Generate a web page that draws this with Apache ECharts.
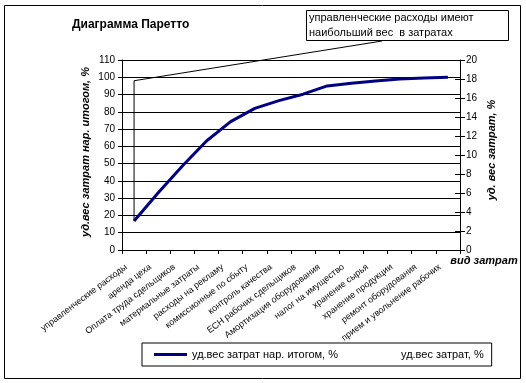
<!DOCTYPE html>
<html><head><meta charset="utf-8">
<script src="https://cdn.jsdelivr.net/npm/echarts@6/dist/echarts.min.js"></script>
<style>html,body{margin:0;padding:0;background:#fff}#c{width:526px;height:383px}</style>
</head><body><div id="c"></div>
<script>
var categories = ["управленческие расходы","аренда цеха","Оплата труда сдельщиков","материальные затраты","расходы на рекламу","комиссионные по сбыту","контроль качества","ЕСН рабочих сдельщиков","Амортизация оборудования","налог на имущество","хранение сырья","хранение продукции","ремонт оборудования","прием и увольнение рабочих"];
var cumulative = [16.8, 33.2, 48.6, 63.1, 74.3, 82.0, 86.5, 90.2, 95.0, 96.5, 97.9, 99.0, 99.6, 100];
var leftTicks = {min: 0, max: 110, step: 10};
var rightTicks = {min: 0, max: 20, step: 2};
var seriesNames = ["уд.вес затрат нар. итогом, %", "уд.вес затрат, %"];
var calloutValue = 98;

var F = 'Arial, "Liberation Sans", sans-serif';
var chart = echarts.init(document.getElementById('c'), null, {renderer: 'canvas'});
var option = {
  animation: false,
  textStyle: {fontFamily: F},
  grid: {left: 122, right: 66, top: 60, bottom: 133, containLabel: false},
  xAxis: {
    type: 'category', data: categories, boundaryGap: true,
    axisLine: {lineStyle: {color: '#000', width: 1}},
    axisTick: {show: true, interval: 0, length: 4, lineStyle: {color: '#000'}},
    axisLabel: {interval: 0, rotate: 37, fontSize: 9, color: '#000', fontFamily: F, margin: 10, padding: [0, 10, 0, 0]}
  },
  yAxis: [
    {type: 'value', min: leftTicks.min, max: leftTicks.max, interval: leftTicks.step, position: 'left',
     axisLine: {show: true, lineStyle: {color: '#000'}},
     axisTick: {show: true, length: 4, lineStyle: {color: '#000'}},
     axisLabel: {fontSize: 10, color: '#000', fontFamily: F, margin: 7},
     splitLine: {show: true, lineStyle: {color: '#000', width: 1}}},
    {type: 'value', min: rightTicks.min, max: rightTicks.max, interval: rightTicks.step, position: 'right',
     axisLine: {show: true, lineStyle: {color: '#000'}},
     axisTick: {show: true, length: 5, lineStyle: {color: '#000'}},
     axisLabel: {fontSize: 10, color: '#000', fontFamily: F, margin: 6},
     splitLine: {show: false}},
    {type: 'value', min: rightTicks.min, max: rightTicks.max, interval: rightTicks.step, position: 'right',
     axisLine: {show: false},
     axisTick: {show: true, inside: true, length: 5, lineStyle: {color: '#000'}},
     axisLabel: {show: false}, splitLine: {show: false}}
  ],
  legend: {
    left: 142, top: 343, width: 400,
    padding: [6, 8, 6, 12], itemGap: 25,
    borderColor: '#000', borderWidth: 1,
    itemWidth: 33, itemHeight: 3,
    textStyle: {fontSize: 11, color: '#000', fontFamily: F},
    data: [{name: seriesNames[0], icon: 'rect'}, {name: seriesNames[1], icon: 'none'}]
  },
  series: [
    {name: seriesNames[0], type: 'line', data: cumulative, yAxisIndex: 0,
     symbol: 'none', lineStyle: {color: '#000080', width: 3}, itemStyle: {color: '#000080'}},
    {name: seriesNames[1], type: 'bar', data: [], yAxisIndex: 1,
     itemStyle: {color: 'rgba(0,0,0,0)'}}
  ]
};
chart.setOption(option);

var p0 = chart.convertToPixel({xAxisIndex: 0, yAxisIndex: 0}, [0, cumulative[0]]);
var pc = chart.convertToPixel({xAxisIndex: 0, yAxisIndex: 0}, [0, calloutValue]);
chart.setOption({
  graphic: [
    {type: 'rect', shape: {x: 4.5, y: 5.5, width: 516, height: 373}, style: {fill: 'none', stroke: '#000', lineWidth: 1}, z: 0},
    {type: 'text', left: 72, top: 19, style: {text: 'Диаграмма Паретто', font: 'bold 12px ' + F, fill: '#000'}},
    {type: 'polyline', shape: {points: [[382, 41], [pc[0], pc[1]], [p0[0], p0[1]]]}, style: {stroke: '#000', lineWidth: 1, fill: 'none'}, z: 5},
    {type: 'rect', shape: {x: 306.5, y: 10.5, width: 202, height: 30}, style: {fill: '#fff', stroke: '#000', lineWidth: 1}, z: 6},
    {type: 'text', x: 309, y: 10, z: 7, style: {text: 'управленческие расходы имеют\nнаибольший вес  в затратах', font: '11px ' + F, fill: '#000', lineHeight: 15}},
    {type: 'text', x: 86, y: 152, rotation: Math.PI / 2, z: 7, style: {text: 'уд.вес затрат нар. итогом, %', font: 'italic bold 11px ' + F, fill: '#000', align: 'center', verticalAlign: 'middle'}},
    {type: 'text', x: 492, y: 150, rotation: Math.PI / 2, z: 7, style: {text: 'уд. вес затрат, %', font: 'italic bold 11px ' + F, fill: '#000', align: 'center', verticalAlign: 'middle'}},
    {type: 'text', x: 484, y: 261, z: 7, style: {text: 'вид затрат', font: 'italic bold 11px ' + F, fill: '#000', align: 'center', verticalAlign: 'middle'}}
  ]
});
</script></body></html>
